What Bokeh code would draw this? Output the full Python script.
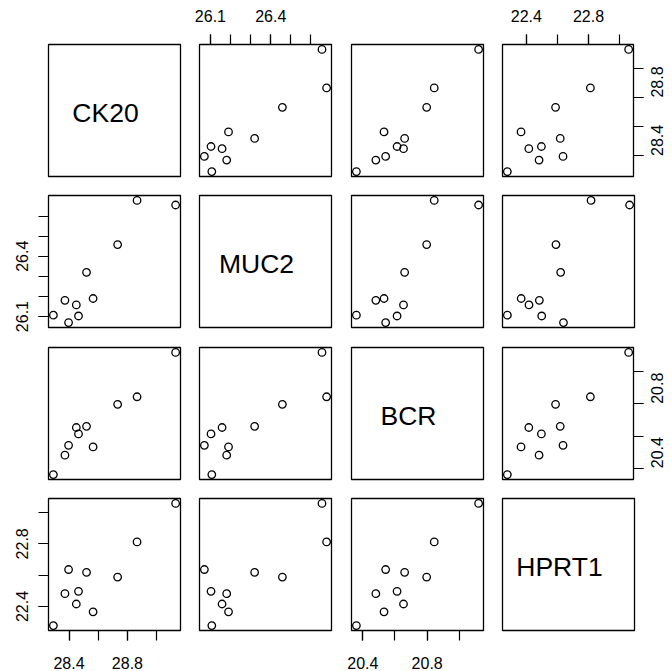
import math
from bokeh.plotting import figure
from bokeh.layouts import column, row
from bokeh.models import Range1d, LinearAxis, FixedTicker
from bokeh.core.properties import value
from bokeh.embed import file_html
from bokeh.resources import INLINE

# ---- data (10 samples) ----
names = ["CK20", "MUC2", "BCR", "HPRT1"]
CK20 = [28.293, 28.372, 28.397, 28.450, 28.465, 28.520, 28.565, 28.733, 28.866, 29.130]
MUC2 = [26.107, 26.181, 26.070, 26.158, 26.103, 26.320, 26.190, 26.458, 26.678, 26.655]
BCR = [20.360, 20.481, 20.542, 20.653, 20.613, 20.660, 20.532, 20.797, 20.844, 21.120]
HPRT1 = [22.278, 22.482, 22.636, 22.416, 22.497, 22.618, 22.366, 22.588, 22.812, 23.058]
data = {"CK20": CK20, "MUC2": MUC2, "BCR": BCR, "HPRT1": HPRT1}

# tick positions and labelled ticks
ticks_all = {
    "CK20": [28.4, 28.6, 28.8, 29.0],
    "MUC2": [26.1, 26.2, 26.3, 26.4, 26.5, 26.6],
    "BCR": [20.4, 20.6, 20.8, 21.0],
    "HPRT1": [22.4, 22.6, 22.8, 23.0],
}
ticks_lab = {
    "CK20": [28.4, 28.8],
    "MUC2": [26.1, 26.4],
    "BCR": [20.4, 20.8],
    "HPRT1": [22.4, 22.8],
}

FONT = "Liberation Sans"


def rng(v):
    lo, hi = min(v), max(v)
    d = (hi - lo) * 0.04
    return lo - d, hi + d


# layout geometry
col_left = [48, 9, 10, 10]
col_right = [10, 10, 9, 38]
row_top = [44, 9, 10, 10]
row_bottom = [10, 10, 9, 41]
FRAME = 132


def make_axis(var, standoff=11):
    ax = LinearAxis(
        ticker=FixedTicker(ticks=ticks_lab[var], minor_ticks=ticks_all[var]),
        axis_line_color=None,
        major_tick_in=0, major_tick_out=10, major_tick_line_color="black",
        major_tick_line_width=1.2,
        minor_tick_in=0, minor_tick_out=10, minor_tick_line_color="black",
        minor_tick_line_width=1.2,
        major_label_text_font=FONT, major_label_text_font_size="16px",
        major_label_text_color="black", major_label_standoff=standoff,
    )
    return ax


rows = []
for i, yv in enumerate(names):
    figs = []
    for j, xv in enumerate(names):
        w = col_left[j] + FRAME + col_right[j]
        h = row_top[i] + FRAME + row_bottom[i]
        if i == j:
            xr, yr = Range1d(0, 1), Range1d(0, 1)
        else:
            xr, yr = Range1d(*rng(data[xv])), Range1d(*rng(data[yv]))
        p = figure(width=w, height=h, x_range=xr, y_range=yr,
                   output_backend="svg", toolbar_location=None,
                   x_axis_location=None, y_axis_location=None,
                   min_border_left=col_left[j], min_border_right=col_right[j],
                   min_border_top=row_top[i], min_border_bottom=row_bottom[i])
        p.xgrid.visible = False
        p.ygrid.visible = False
        p.outline_line_color = "black"
        p.outline_line_width = 1.3
        p.outline_line_alpha = 1
        p.background_fill_color = "white"
        p.border_fill_color = "white"
        if i == j:
            p.text(x=[0.5], y=[0.5], text=[xv], text_align="center",
                   text_baseline="alphabetic", x_offset=-9, y_offset=2,
                   text_font=value(FONT), text_font_size="26.5px",
                   text_color="black")
        else:
            p.scatter(x=data[xv], y=data[yv], size=7.5, fill_color=None,
                      line_color="black", line_width=1.3)
        # axes on outer panels, alternating like R pairs
        if i == 0 and j % 2 == 1:
            p.add_layout(make_axis(xv, standoff=13), "above")
        if i == 3 and j % 2 == 0:
            p.add_layout(make_axis(xv, standoff=16), "below")
        if j == 0 and i % 2 == 1:
            ax = make_axis(yv, standoff=10)
            ax.major_label_orientation = "vertical"
            p.add_layout(ax, "left")
        if j == 3 and i % 2 == 0:
            ax = make_axis(yv, standoff=14)
            ax.major_label_orientation = math.pi / 2
            p.add_layout(ax, "right")
        figs.append(p)
    rows.append(row(*figs, spacing=0))

layout = column(*rows, spacing=0)
open("out.html", "w").write(file_html(layout, INLINE))
